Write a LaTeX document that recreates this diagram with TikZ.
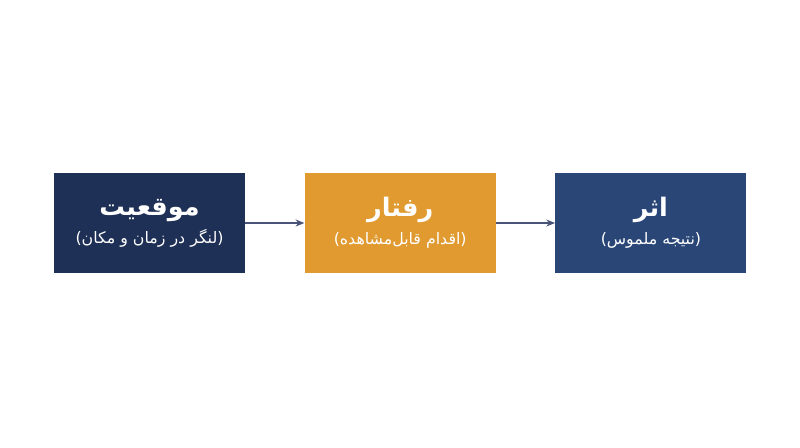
\documentclass[tikz,border=0pt]{standalone}
\usepackage{fontspec}
\usepackage{xcolor}
\usepackage{tikz}
\usetikzlibrary{positioning,arrows.meta}
\TeXXeTstate=1
\newfontfamily\arabicfont[Script=Arabic]{DejaVu Sans}
\definecolor{navydark}{HTML}{1E3056}
\definecolor{navymid}{HTML}{2A4677}
\definecolor{amber}{HTML}{E09A30}
\definecolor{linkgray}{HTML}{4A5478}
\newcommand{\boxtitle}[1]{{\arabicfont\bfseries\fontsize{14.5}{17}\selectfont\beginR #1\endR}}
\newcommand{\boxnote}[1]{{\arabicfont\fontsize{9}{12}\selectfont\beginR #1\endR}}

\begin{document}
\begin{tikzpicture}[
  node distance=1.18cm,
  every node/.style={minimum width=3.82cm, minimum height=2cm, inner sep=0pt, align=center, text=white},
  situation/.style={fill=navydark},
  behaviour/.style={fill=amber},
  impact/.style={fill=navymid},
  link/.style={draw=linkgray, line width=0.6pt, -{Stealth[length=5pt,width=4pt]}}
]
\useasboundingbox (0,0) rectangle (16,8.94);
\node[situation] (sit) at (2.99,4.48) {\boxtitle{موقعیت}\\[4pt] \boxnote{(لنگر در زمان و مکان)}};
\node[behaviour, right=of sit] (beh) {\boxtitle{رفتار}\\[4pt] \boxnote{(اقدام قابل‌مشاهده)}};
\node[impact, right=of beh] (imp) {\boxtitle{اثر}\\[4pt] \boxnote{(نتیجه ملموس)}};
\draw[link] (sit) -- (beh);
\draw[link] (beh) -- (imp);
\end{tikzpicture}
\end{document}
